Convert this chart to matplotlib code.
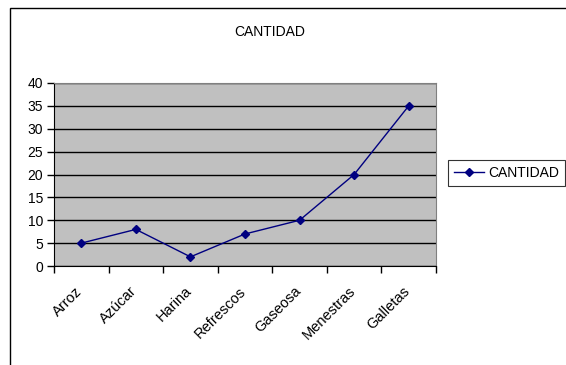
import matplotlib
matplotlib.use("Agg")
import matplotlib.pyplot as plt
from matplotlib.patches import Rectangle
from matplotlib.transforms import ScaledTranslation
import numpy as np

plt.rcParams['font.family'] = ['Liberation Sans', 'DejaVu Sans']

categories = ["Arroz", "Azúcar", "Harina", "Refrescos", "Gaseosa", "Menestras", "Galletas"]
cantidad = [5, 8, 2, 7, 10, 20, 35]
yticks = [0, 5, 10, 15, 20, 25, 30, 35, 40]

W, H = 566, 365
fig = plt.figure(figsize=(W / 100, H / 100), dpi=100)

# Outer chart frame
fig.patches.append(Rectangle((10 / W, -0.1), 1.2, 1 - 8 / H + 0.1, transform=fig.transFigure,
                             fill=False, edgecolor='black', linewidth=1.0))

left, right, top, bottom = 54, 436, 83, 266
ax = fig.add_axes([left / W, 1 - bottom / H, (right - left) / W, (bottom - top) / H])
ax.set_facecolor('#C0C0C0')

x = np.arange(len(categories))
ax.plot(x, cantidad, color='#000080', linewidth=1.0, marker='D', markersize=4.5,
        label='CANTIDAD')

ax.set_xlim(-0.5, len(categories) - 0.5)
ax.set_ylim(0, 40)
ax.set_yticks(yticks)
ax.yaxis.grid(True, color='black', linewidth=1.0)
ax.set_axisbelow(True)

ax.set_xticks(np.arange(len(categories) + 1) - 0.5)
ax.set_xticklabels([])
ax.set_xticks(x, minor=True)
ax.set_xticklabels(categories, minor=True, rotation=45, ha='right', va='top',
                   rotation_mode='anchor', fontsize=10.5)
ax.tick_params(axis='x', which='minor', length=0, pad=13)
ax.tick_params(axis='x', which='major', length=5, width=1, direction='out', color='black')
ax.tick_params(axis='y', length=5, width=1, direction='out', labelsize=10, pad=3)

# nudge category labels left so their ends sit just before each point
shift = ScaledTranslation(-6 / 100, 0, fig.dpi_scale_trans)
for lbl in ax.get_xticklabels(minor=True):
    lbl.set_transform(lbl.get_transform() + shift)

for s in ['top', 'right']:
    ax.spines[s].set_color('#808080')
for s in ['left', 'bottom']:
    ax.spines[s].set_color('black')

fig.text(270 / W, 1 - 32 / H, 'CANTIDAD', ha='center', va='center', fontsize=10)

leg = ax.legend(loc='center left', bbox_to_anchor=(448 / W, 1 - 173 / H),
                bbox_transform=fig.transFigure, frameon=True, fancybox=False,
                edgecolor='black', fontsize=10, handlelength=2.2, handletextpad=0.3,
                borderpad=0.4, borderaxespad=0)
leg.get_frame().set_linewidth(0.8)

fig.savefig('out.png', dpi=100)
